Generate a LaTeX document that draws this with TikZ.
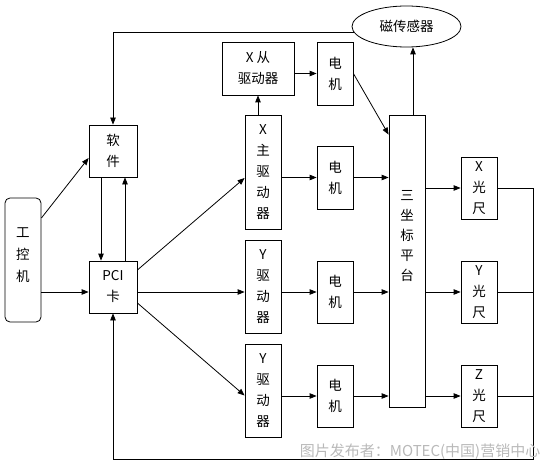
\documentclass[tikz,border=0pt]{standalone}
\usepackage{fontspec}
\setmainfont{Noto Sans CJK SC}
\usetikzlibrary{arrows.meta, shapes.geometric, calc}

\begin{document}
\begin{tikzpicture}[x=1pt, y=-1pt, line width=0.8pt,
  box/.style={draw, inner sep=0pt, align=center, font=\fontsize{13.5}{21}\selectfont},
  arr/.style={-{Triangle[length=7pt,width=5.5pt]}}]
\useasboundingbox (0,0) rectangle (548,465);
\node[box, rounded corners=5pt, minimum width=36pt, minimum height=124pt,
  label={[font=\fontsize{13.5}{22}\selectfont, align=center, yshift=5pt]center:工\\控\\机}] (ipc) at (23,260) {};
\node[box, minimum width=48pt, minimum height=52pt] (soft) at (113,151) {软\\件};
\node[box, minimum width=48pt, minimum height=52pt] (pci) at (113,287) {PCI\\卡};
\node[box, minimum width=72pt, minimum height=53pt] (xslave) at (258,68.5) {X 从\\驱动器};
\node[box, minimum width=36pt, minimum height=114pt] (xmain) at (263,172) {X\\主\\驱\\动\\器};
\node[box, minimum width=36pt, minimum height=93pt] (ydrv1) at (263,286.5) {Y\\驱\\动\\器};
\node[box, minimum width=36pt, minimum height=93pt] (ydrv2) at (263,390.5) {Y\\驱\\动\\器};
\node[box, minimum width=36pt, minimum height=63pt] (m1) at (335,73.5) {电\\机};
\node[box, minimum width=36pt, minimum height=63pt] (m2) at (335,177.5) {电\\机};
\node[box, minimum width=36pt, minimum height=62pt] (m3) at (335,292) {电\\机};
\node[box, minimum width=36pt, minimum height=62pt] (m4) at (335,396) {电\\机};
\node[box, minimum width=36pt, minimum height=292pt,
  label={[font=\fontsize{13.5}{20}\selectfont, align=center, yshift=25pt]center:三\\坐\\标\\平\\台}] (stage) at (407,261) {};
\node[box, ellipse, minimum width=109pt, minimum height=41pt] (mag) at (406.5,26.5) {磁传感器};
\node[box, minimum width=36pt, minimum height=62pt] (xs) at (479,188) {X\\光\\尺};
\node[box, minimum width=36pt, minimum height=62pt] (ys) at (479,292) {Y\\光\\尺};
\node[box, minimum width=36pt, minimum height=62pt] (zs) at (479,396) {Z\\光\\尺};
\coordinate (fb) at (533,459);

\draw[arr] ([yshift=42pt]ipc.east) -- ([yshift=-7pt]soft.west);
\draw[arr] (ipc.east |- m3) -- (pci.west |- m3);
\draw[arr] ([xshift=-12pt]soft.south) -- ([xshift=-12pt]pci.north);
\draw[arr] ([xshift=12pt]pci.north) -- ([xshift=12pt]soft.south);
\draw[arr] ([yshift=17pt]pci.east) -- ([yshift=-6pt]xmain.west);
\draw[arr] (pci.east |- m3) -- (ydrv1.west |- m3);
\draw[arr] ([yshift=-16pt]pci.east) -- ([yshift=-5pt]ydrv2.west);
\draw[arr] (xslave.south |- xmain.north) -- (xslave.south);
\draw[arr] (xslave.east |- m1) -- (m1.west);
\draw[arr] (m1.east) -- ([yshift=-20pt]stage.north west);
\draw[arr] (xmain.east |- m2) -- (m2.west);
\draw[arr] (m2.east) -- (stage.west |- m2);
\draw[arr] (ydrv1.east |- m3) -- (m3.west);
\draw[arr] (m3.east) -- (stage.west |- m3);
\draw[arr] (ydrv2.east |- m4) -- (m4.west);
\draw[arr] (m4.east) -- (stage.west |- m4);
\draw[arr] (stage.east |- xs) -- (xs.west);
\draw[arr] (stage.east |- ys) -- (ys.west);
\draw[arr] (stage.east |- zs) -- (zs.west);
\draw[arr] ([xshift=6pt]stage.north) -- ([xshift=6pt]stage.north |- mag.south);
\draw[arr] (mag.186) -| (soft.north);
\draw[arr] (xs.east) -| (fb) -| (pci.south);
\draw (ys.east) -- (ys.east -| fb);
\draw (zs.east) -- (zs.east -| fb);

\node[text=gray!55, font=\fontsize{15}{15}\selectfont, anchor=east] (mark) at (544,452) {图片发布者：MOTEC(中国)营销中心};
\end{tikzpicture}
\end{document}
